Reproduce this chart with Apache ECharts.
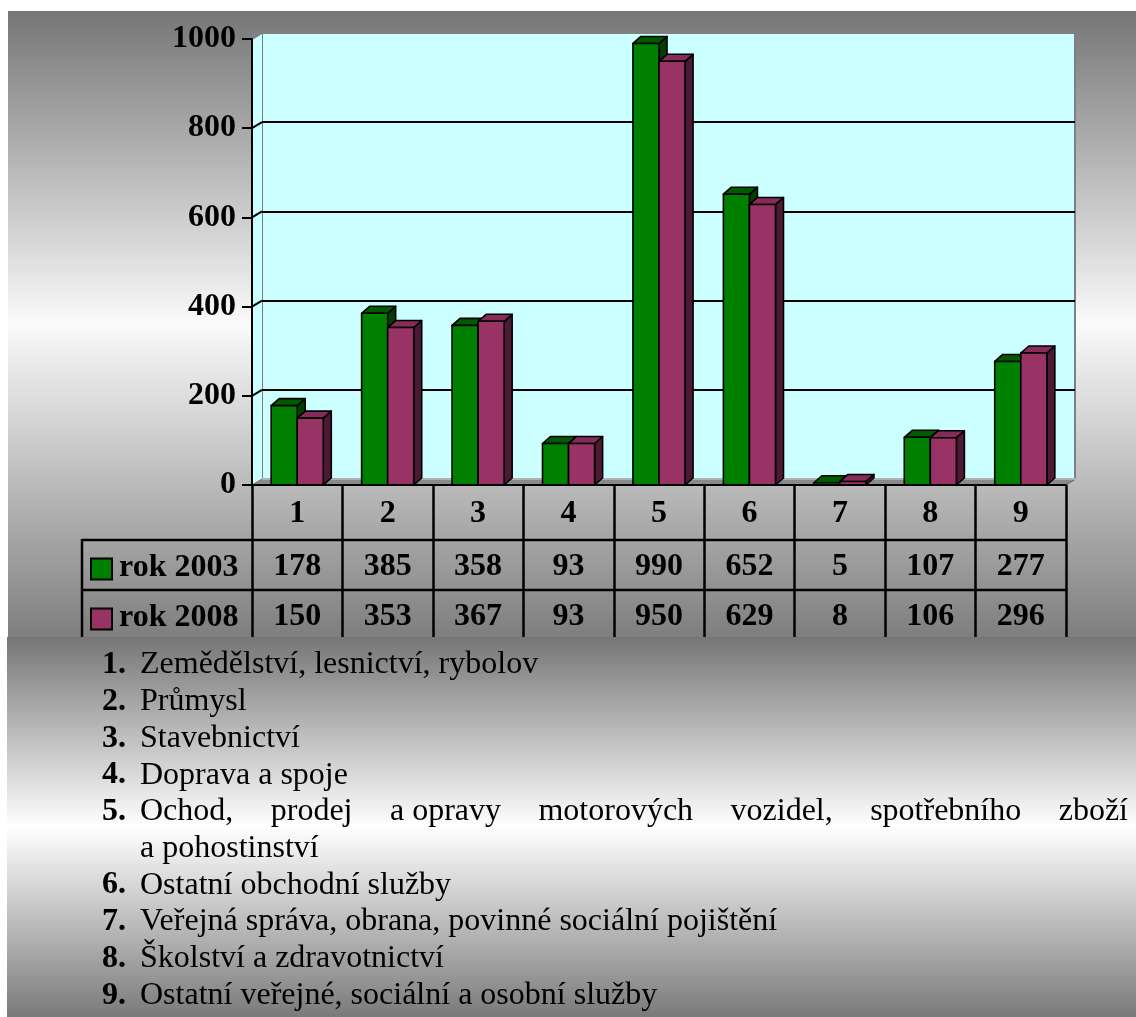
<!DOCTYPE html>
<html><head><meta charset="utf-8">
<script src="https://cdn.jsdelivr.net/npm/echarts@6/dist/echarts.min.js"></script>
<style>html,body{margin:0;padding:0;background:#fff}#c{width:1136px;height:1017px}</style>
</head><body><div id="c"></div>
<script>
// ---- data ----
const categories = ['1', '2', '3', '4', '5', '6', '7', '8', '9'];
const seriesNames = ['rok 2003', 'rok 2008'];
const values2003 = [178, 385, 358, 93, 990, 652, 5, 107, 277];
const values2008 = [150, 353, 367, 93, 950, 629, 8, 106, 296];
const yTicks = [0, 200, 400, 600, 800, 1000];
const sectorNames = [
  'Zemědělství, lesnictví, rybolov',
  'Průmysl',
  'Stavebnictví',
  'Doprava a spoje',
  'Ochod, prodej a\u00a0opravy motorových vozidel, spotřebního zboží\na\u00a0pohostinství',
  'Ostatní obchodní služby',
  'Veřejná správa, obrana, povinné sociální pojištění',
  'Školství a zdravotnictví',
  'Ostatní veřejné, sociální a osobní služby'
];

// ---- style ----
const FONT = '"Liberation Serif", "Times New Roman", serif';
const colGreen = { front: '#008000', top: '#005a00', side: '#003f00' };
const colPurple = { front: '#993366', top: '#852c58', side: '#4d1a33' };

const chart = echarts.init(document.getElementById('c'), null, { renderer: 'canvas' });

function barRender(idx, colors) {
  return function (params, api) {
    const cat = api.value(0), v = api.value(1);
    const top = api.coord([cat, v]);
    const base = api.coord([cat, 0]);
    const catW = api.size([1, 0])[0];
    const w = catW * 0.288;
    const x0 = idx === 0 ? top[0] - w : top[0];
    const yT = top[1], yB = base[1];
    const dx = 8, dy = -7;
    const st = (f) => ({ fill: f, stroke: '#000', lineWidth: 1.6, lineJoin: 'round' });
    return {
      type: 'group', children: [
        { type: 'polygon', shape: { points: [[x0 + w, yT], [x0 + w + dx, yT + dy], [x0 + w + dx, yB + dy], [x0 + w, yB]] }, style: st(colors.side) },
        { type: 'polygon', shape: { points: [[x0, yT], [x0 + w, yT], [x0 + w + dx, yT + dy], [x0 + dx, yT + dy]] }, style: st(colors.top) },
        { type: 'rect', shape: { x: x0, y: yT, width: w, height: yB - yT }, style: st(colors.front) }
      ]
    };
  };
}

function floorRender(params, api) {
  const cs = params.coordSys;
  const dx = 10, dy = -6;
  const x = cs.x, y = cs.y, w = cs.width, h = cs.height;
  const yb = y + h;
  const children = [
    { type: 'polygon', shape: { points: [[x, yb], [x, y], [x + dx, y + dy], [x + dx, yb + dy]] },
      style: { fill: '#CCFFFF', stroke: null } },
    { type: 'polygon', shape: { points: [[x, yb], [x + w, yb], [x + w + dx, yb + dy], [x + dx, yb + dy]] },
      style: { fill: '#8a8a8a', stroke: '#6f6f6f', lineWidth: 1 } },
    { type: 'line', shape: { x1: x + dx, y1: yb + dy, x2: x + w + dx, y2: yb + dy }, style: { stroke: '#c4c4c4', lineWidth: 1.5 } },
    { type: 'line', shape: { x1: x, y1: y, x2: x + dx, y2: y + dy }, style: { stroke: '#7f7f7f', lineWidth: 2 } }
  ];
  yTicks.forEach(function (t) {
    if (t === 0 || t === yTicks[yTicks.length - 1]) return;
    const p = api.coord([0, t]);
    children.push({ type: 'line', shape: { x1: x, y1: p[1], x2: x + dx, y2: p[1] + dy }, style: { stroke: '#000', lineWidth: 2 } });
  });
  return { type: 'group', children: children };
}

function tableRow(rowY) {
  return function (params, api) {
    const p = api.coord([api.value(0), 0]);
    return { type: 'text', x: p[0], y: rowY,
      style: { text: String(api.value(1)), align: 'center', verticalAlign: 'middle',
        font: 'bold 32px ' + FONT, fill: '#000' } };
  };
}

// ---- text list below the chart ----
const mctx = document.createElement('canvas').getContext('2d');
mctx.font = '32px ' + FONT;
const listGraphics = [];
const textLeft = 140, textRight = 1128, numLeft = 102, firstY = 665, lineStep = 36.7;
let lineIdx = 0;
sectorNames.forEach(function (name, i) {
  const y0 = firstY + lineIdx * lineStep;
  listGraphics.push({ type: 'text', x: numLeft, y: y0, z: 10,
    style: { text: (i + 1) + '.', font: 'bold 32px ' + FONT, fill: '#000', align: 'left', verticalAlign: 'middle' } });
  const lines = name.split('\n');
  lines.forEach(function (ln, li) {
    const y = firstY + lineIdx * lineStep;
    if (li < lines.length - 1) {
      const words = ln.split(' ');
      const widths = words.map(function (w) { return mctx.measureText(w).width; });
      const total = widths.reduce(function (a, b) { return a + b; }, 0);
      const gap = (textRight - textLeft - total) / (words.length - 1);
      let x = textLeft;
      words.forEach(function (w, wi) {
        listGraphics.push({ type: 'text', x: x, y: y, z: 10,
          style: { text: w, font: '32px ' + FONT, fill: '#000', align: 'left', verticalAlign: 'middle' } });
        x += widths[wi] + gap;
      });
    } else {
      listGraphics.push({ type: 'text', x: textLeft, y: y, z: 10,
        style: { text: ln, font: '32px ' + FONT, fill: '#000', align: 'left', verticalAlign: 'middle' } });
    }
    lineIdx++;
  });
});

// ---- legend (inside the data table) ----
const legendGraphics = [];
[colGreen.front, colPurple.front].forEach(function (c, i) {
  const cy = 569 + i * 50;
  legendGraphics.push({ type: 'rect', z: 10, shape: { x: 91, y: cy - 10.5, width: 21, height: 21 },
    style: { fill: c, stroke: '#000', lineWidth: 2 } });
  legendGraphics.push({ type: 'text', z: 10, x: 119, y: cy - 1,
    style: { text: seriesNames[i], font: 'bold 32px ' + FONT, fill: '#000', align: 'left', verticalAlign: 'middle' } });
});

const option = {
  animation: false,
  backgroundColor: '#ffffff',
  color: [colGreen.front, colPurple.front],
  graphic: {
    elements: [
      { type: 'rect', z: -10, shape: { x: 8, y: 11, width: 1128, height: 626 },
        style: { fill: new echarts.graphic.LinearGradient(0, 0, 0, 1, [
          { offset: 0, color: '#767676' }, { offset: 0.5, color: '#fafafa' }, { offset: 1, color: '#7e7e7e' }]) } },
      { type: 'rect', z: -10, shape: { x: 7, y: 637, width: 1129, height: 380 },
        style: { fill: new echarts.graphic.LinearGradient(0, 0, 0, 1, [
          { offset: 0, color: '#767676' }, { offset: 0.5, color: '#ffffff' }, { offset: 1, color: '#7a7a7a' }]) } },
      { type: 'line', z: 10, shape: { x1: 82, y1: 540, x2: 1066, y2: 540 }, style: { stroke: '#000', lineWidth: 2.5 } },
      { type: 'line', z: 10, shape: { x1: 82, y1: 590, x2: 1066, y2: 590 }, style: { stroke: '#000', lineWidth: 2.5 } },
      { type: 'line', z: 10, shape: { x1: 82, y1: 539, x2: 82, y2: 637 }, style: { stroke: '#000', lineWidth: 2.5 } }
    ].concat(legendGraphics, listGraphics)
  },
  grid: [
    { left: 252, top: 39, width: 814, height: 446, show: false },
    { left: 262, top: 33, width: 813, height: 446, show: true, backgroundColor: '#CCFFFF', borderColor: '#7f7f7f', borderWidth: 2 }
  ],
  xAxis: [
    { type: 'category', gridIndex: 0, data: categories, z: 5,
      axisLine: { show: true, lineStyle: { color: '#000', width: 2 } },
      axisTick: { show: true, interval: 0, length: 152, lineStyle: { color: '#000', width: 2.5 } },
      axisLabel: { interval: 0, margin: 13, fontFamily: FONT, fontWeight: 'bold', fontSize: 32, lineHeight: 32, color: '#000' },
      splitLine: { show: false } },
    { type: 'category', gridIndex: 1, data: categories, show: false }
  ],
  yAxis: [
    { type: 'value', gridIndex: 0, min: 0, max: 1000, interval: 200, z: 5,
      axisLine: { show: true, lineStyle: { color: '#000', width: 2 } },
      axisTick: { show: true, length: 10, lineStyle: { color: '#000', width: 2 } },
      axisLabel: { margin: 16, fontFamily: FONT, fontWeight: 'bold', fontSize: 32, color: '#000',
        formatter: function (v) { return String(v); } },
      splitLine: { show: false } },
    { type: 'value', gridIndex: 1, min: 0, max: 1000, interval: 200,
      axisLine: { show: false }, axisTick: { show: false }, axisLabel: { show: false },
      splitLine: { show: true, showMinLine: false, showMaxLine: false, lineStyle: { color: '#000', width: 2 } } }
  ],
  series: [
    { type: 'custom', name: 'floor', xAxisIndex: 0, yAxisIndex: 0, z: 1, clip: false,
      renderItem: floorRender, data: [[0, 0]], silent: true },
    { type: 'custom', name: seriesNames[0], xAxisIndex: 0, yAxisIndex: 0, z: 2, clip: false,
      itemStyle: { color: colGreen.front },
      renderItem: barRender(0, colGreen), encode: { x: 0, y: 1 },
      data: values2003.map(function (v, i) { return [i, v]; }) },
    { type: 'custom', name: seriesNames[1], xAxisIndex: 0, yAxisIndex: 0, z: 3, clip: false,
      itemStyle: { color: colPurple.front },
      renderItem: barRender(1, colPurple), encode: { x: 0, y: 1 },
      data: values2008.map(function (v, i) { return [i, v]; }) },
    { type: 'custom', name: 'tab2003', xAxisIndex: 0, yAxisIndex: 0, z: 6, clip: false,
      renderItem: tableRow(567), encode: { x: 0, y: 1 },
      data: values2003.map(function (v, i) { return [i, v]; }) },
    { type: 'custom', name: 'tab2008', xAxisIndex: 0, yAxisIndex: 0, z: 6, clip: false,
      renderItem: tableRow(617), encode: { x: 0, y: 1 },
      data: values2008.map(function (v, i) { return [i, v]; }) }
  ]
};
chart.setOption(option);
</script>
</body></html>
